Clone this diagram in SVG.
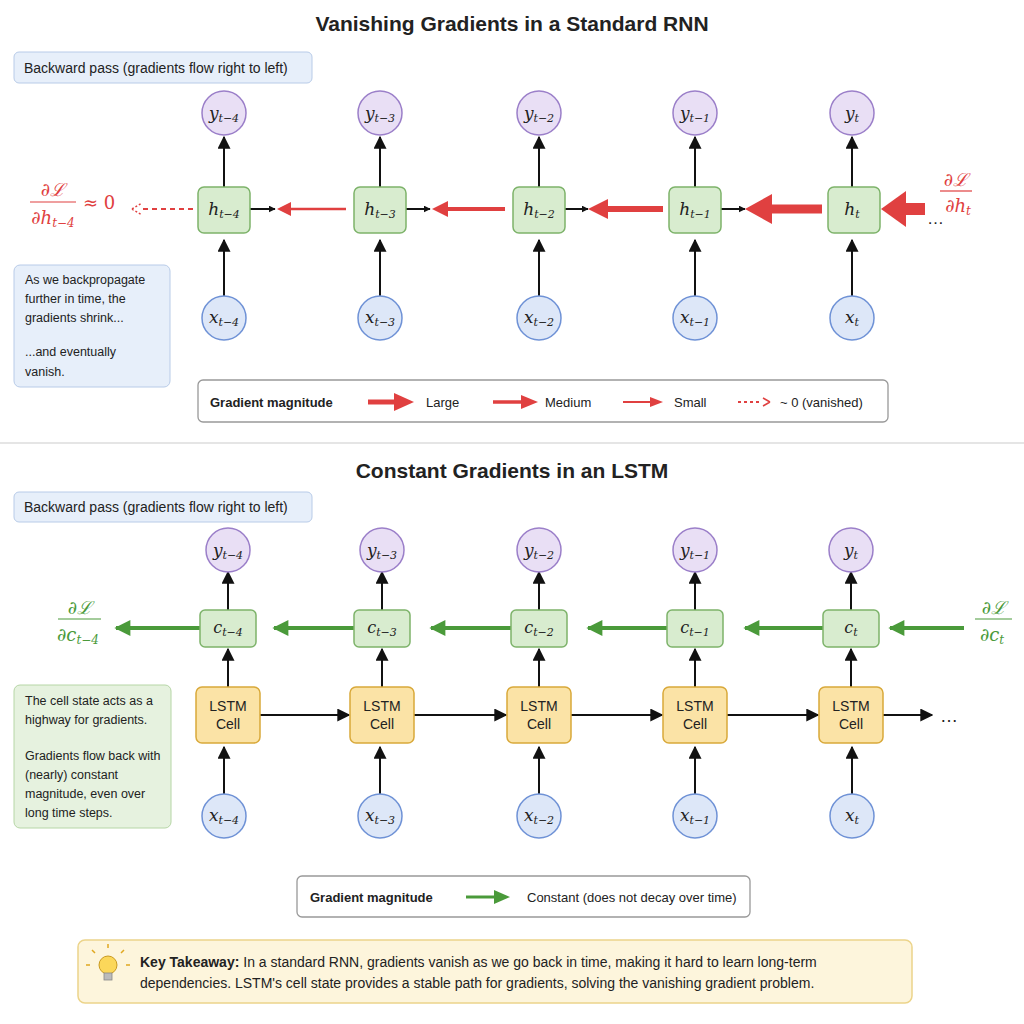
<svg xmlns="http://www.w3.org/2000/svg" width="1024" height="1024" viewBox="0 0 1024 1024">
<defs>
<style>
text{font-family:"Liberation Sans",Arial,sans-serif;fill:#222}
.m{font-family:"DejaVu Serif","Liberation Serif",serif;font-style:italic}
.title{font-size:21px;font-weight:bold;text-anchor:middle}
.circY{fill:#e9dff5;stroke:#9b7fc9;stroke-width:1.5}
.circX{fill:#dde7f8;stroke:#6f92d6;stroke-width:1.5}
.box{fill:#d8eccf;stroke:#7db36a;stroke-width:1.5}
.lstm{fill:#fbe3a6;stroke:#d9a93a;stroke-width:1.5}
.blk{stroke:#111;stroke-width:2;fill:none}
.note{fill:#e7effa;stroke:#b8cbe8;stroke-width:1}
</style>
<marker id="ab" viewBox="0 0 10 10" refX="9" refY="5" markerWidth="7" markerHeight="7" orient="auto" markerUnits="userSpaceOnUse"><path d="M0,0L10,5L0,10z" fill="#111"/></marker>
<marker id="abL" viewBox="0 0 10 10" refX="9" refY="5" markerWidth="13" markerHeight="13" orient="auto" markerUnits="userSpaceOnUse"><path d="M0,0L10,5L0,10z" fill="#111"/></marker>
<marker id="ag" viewBox="0 0 10 10" refX="9" refY="5" markerWidth="18" markerHeight="16" orient="auto" markerUnits="userSpaceOnUse"><path d="M0,0L10,5L0,10z" fill="#4a9a3a"/></marker>
</defs>
<rect width="1024" height="1024" fill="#fff"/>

<text class="title" x="512" y="31">Vanishing Gradients in a Standard RNN</text>
<rect class="note" x="14" y="52" width="298" height="31" rx="5"/>
<text x="24" y="73" font-size="14">Backward pass (gradients flow right to left)</text>

<g id="connectors">
<g class="blk">
<path d="M224,296V240" marker-end="url(#abL)"/><path d="M380,296V240" marker-end="url(#abL)"/><path d="M539,296V240" marker-end="url(#abL)"/><path d="M695,296V240" marker-end="url(#abL)"/><path d="M852,296V240" marker-end="url(#abL)"/>
<path d="M224,187V137" marker-end="url(#abL)"/><path d="M380,187V137" marker-end="url(#abL)"/><path d="M539,187V137" marker-end="url(#abL)"/><path d="M695,187V137" marker-end="url(#abL)"/><path d="M852,187V137" marker-end="url(#abL)"/>
<path d="M250,209H275" marker-end="url(#ab)"/><path d="M406,209H430" marker-end="url(#ab)"/><path d="M565,209H588" marker-end="url(#ab)"/><path d="M721,209H745" marker-end="url(#ab)"/>
</g>
<path d="M346,209H290" stroke="#e04040" stroke-width="2.5"/><path d="M277,209l14,-7v14z" fill="#e04040"/>
<path d="M505,209H447" stroke="#e04040" stroke-width="4"/><path d="M432,209l16,-8v16z" fill="#e04040"/>
<path d="M663,209H605" stroke="#e04040" stroke-width="6"/><path d="M588,209l20,-10v20z" fill="#e04040"/>
<path d="M822,209H770" stroke="#e04040" stroke-width="9"/><path d="M745,209l27,-15v30z" fill="#e04040"/>
<path d="M925,209H905" stroke="#e04040" stroke-width="12"/><path d="M881,209l25,-18v36z" fill="#e04040"/>
<path d="M193,209H142" stroke="#e04040" stroke-width="2" stroke-dasharray="5,4"/><path d="M132,209l10,-6M132,209l10,6" stroke="#e04040" stroke-width="1.5" stroke-dasharray="2,2"/>

<g class="blk">
<path d="M224,794V747" marker-end="url(#abL)"/><path d="M380,794V747" marker-end="url(#abL)"/><path d="M539,794V747" marker-end="url(#abL)"/><path d="M695,794V747" marker-end="url(#abL)"/><path d="M852,794V747" marker-end="url(#abL)"/>
<path d="M228,687V649" marker-end="url(#abL)"/><path d="M382,687V649" marker-end="url(#abL)"/><path d="M539,687V649" marker-end="url(#abL)"/><path d="M695,687V649" marker-end="url(#abL)"/><path d="M851,687V649" marker-end="url(#abL)"/>
<path d="M228,610V572" marker-end="url(#abL)"/><path d="M382,610V572" marker-end="url(#abL)"/><path d="M539,610V572" marker-end="url(#abL)"/><path d="M695,610V572" marker-end="url(#abL)"/><path d="M851,610V572" marker-end="url(#abL)"/>
<path d="M260,715H349" marker-end="url(#abL)"/><path d="M414,715H506" marker-end="url(#abL)"/><path d="M571,715H662" marker-end="url(#abL)"/><path d="M727,715H818" marker-end="url(#abL)"/><path d="M883,715H932" marker-end="url(#abL)"/>
</g>
<path d="M964,628H890" stroke="#4a9a3a" stroke-width="4" marker-end="url(#ag)"/>
<path d="M824,628H745" stroke="#4a9a3a" stroke-width="4" marker-end="url(#ag)"/>
<path d="M668,628H588" stroke="#4a9a3a" stroke-width="4" marker-end="url(#ag)"/>
<path d="M512,628H431" stroke="#4a9a3a" stroke-width="4" marker-end="url(#ag)"/>
<path d="M356,628H274" stroke="#4a9a3a" stroke-width="4" marker-end="url(#ag)"/>
<path d="M200,628H116" stroke="#4a9a3a" stroke-width="4" marker-end="url(#ag)"/>
</g>

<g id="rnn-nodes">
<g id="y1"><circle class="circY" cx="224" cy="113" r="22"/><text class="m" x="224" y="119" font-size="17" text-anchor="middle">y<tspan font-size="11" dy="3">t−4</tspan></text></g>
<g id="y2"><circle class="circY" cx="380" cy="113" r="22"/><text class="m" x="380" y="119" font-size="17" text-anchor="middle">y<tspan font-size="11" dy="3">t−3</tspan></text></g>
<g id="y3"><circle class="circY" cx="539" cy="113" r="22"/><text class="m" x="539" y="119" font-size="17" text-anchor="middle">y<tspan font-size="11" dy="3">t−2</tspan></text></g>
<g id="y4"><circle class="circY" cx="695" cy="113" r="22"/><text class="m" x="695" y="119" font-size="17" text-anchor="middle">y<tspan font-size="11" dy="3">t−1</tspan></text></g>
<g id="y5"><circle class="circY" cx="852" cy="113" r="22"/><text class="m" x="852" y="119" font-size="17" text-anchor="middle">y<tspan font-size="11" dy="3">t</tspan></text></g>
<g id="h1"><rect class="box" x="198" y="187" width="52" height="46" rx="6"/><text class="m" x="224" y="215" font-size="17" text-anchor="middle">h<tspan font-size="11" dy="3">t−4</tspan></text></g>
<g id="h2"><rect class="box" x="354" y="187" width="52" height="46" rx="6"/><text class="m" x="380" y="215" font-size="17" text-anchor="middle">h<tspan font-size="11" dy="3">t−3</tspan></text></g>
<g id="h3"><rect class="box" x="513" y="187" width="52" height="46" rx="6"/><text class="m" x="539" y="215" font-size="17" text-anchor="middle">h<tspan font-size="11" dy="3">t−2</tspan></text></g>
<g id="h4"><rect class="box" x="669" y="187" width="52" height="46" rx="6"/><text class="m" x="695" y="215" font-size="17" text-anchor="middle">h<tspan font-size="11" dy="3">t−1</tspan></text></g>
<g id="h5"><rect class="box" x="828" y="187" width="52" height="46" rx="6"/><text class="m" x="852" y="215" font-size="17" text-anchor="middle">h<tspan font-size="11" dy="3">t</tspan></text></g>
<g id="x1"><circle class="circX" cx="224" cy="318" r="22"/><text class="m" x="224" y="323" font-size="17" text-anchor="middle">x<tspan font-size="11" dy="3">t−4</tspan></text></g>
<g id="x2"><circle class="circX" cx="380" cy="318" r="22"/><text class="m" x="380" y="323" font-size="17" text-anchor="middle">x<tspan font-size="11" dy="3">t−3</tspan></text></g>
<g id="x3"><circle class="circX" cx="539" cy="318" r="22"/><text class="m" x="539" y="323" font-size="17" text-anchor="middle">x<tspan font-size="11" dy="3">t−2</tspan></text></g>
<g id="x4"><circle class="circX" cx="695" cy="318" r="22"/><text class="m" x="695" y="323" font-size="17" text-anchor="middle">x<tspan font-size="11" dy="3">t−1</tspan></text></g>
<g id="x5"><circle class="circX" cx="852" cy="318" r="22"/><text class="m" x="852" y="323" font-size="17" text-anchor="middle">x<tspan font-size="11" dy="3">t</tspan></text></g>
</g>

<g id="rnn-labels">
<text class="m" x="53" y="196" font-size="18" text-anchor="middle" style="fill:#e04040">∂ℒ</text>
<path d="M30,202H76" stroke="#e04040" stroke-width="1.2"/>
<text class="m" x="53" y="224" font-size="18" text-anchor="middle" style="fill:#e04040">∂h<tspan font-size="12" dy="3">t−4</tspan></text>
<text class="m" x="83" y="209" font-size="18" style="fill:#e04040;font-style:normal">≈ 0</text>
<text class="m" x="956" y="186" font-size="18" text-anchor="middle" style="fill:#e04040">∂ℒ</text>
<path d="M940,191H972" stroke="#e04040" stroke-width="1.2"/>
<text class="m" x="958" y="212" font-size="18" text-anchor="middle" style="fill:#e04040">∂h<tspan font-size="12" dy="3">t</tspan></text>
<text x="927" y="224" font-size="17">…</text>
</g>

<g id="rnn-note">
<rect class="note" x="14" y="265" width="156" height="122" rx="6"/>
<text font-size="12.5"><tspan x="25" y="284">As we backpropagate</tspan><tspan x="25" y="303">further in time, the</tspan><tspan x="25" y="322">gradients shrink...</tspan><tspan x="25" y="356">...and eventually</tspan><tspan x="25" y="376">vanish.</tspan></text>
</g>

<g id="rnn-legend">
<rect x="198" y="380" width="690" height="42" rx="5" fill="#fff" stroke="#999" stroke-width="1.3"/>
<text x="210" y="407" font-size="13" font-weight="bold">Gradient magnitude</text>
<path d="M368,402H396" stroke="#e04040" stroke-width="5"/><path d="M414,402l-20,-9v18z" fill="#e04040"/>
<text x="426" y="407" font-size="13">Large</text>
<path d="M493,402H521" stroke="#e04040" stroke-width="3.5"/><path d="M538,402l-17,-7v14z" fill="#e04040"/>
<text x="545" y="407" font-size="13">Medium</text>
<path d="M623,402H651" stroke="#e04040" stroke-width="2"/><path d="M663,402l-13,-5v10z" fill="#e04040"/>
<text x="674" y="407" font-size="13">Small</text>
<path d="M738,402H762" stroke="#e04040" stroke-width="2" stroke-dasharray="3,3"/><path d="M770,402l-7,-4M770,402l-7,4" stroke="#e04040" stroke-width="1.5"/>
<text x="780" y="407" font-size="13">~ 0 (vanished)</text>
</g>

<path d="M0,443H1024" stroke="#ddd" stroke-width="1.5"/>

<text class="title" x="512" y="478">Constant Gradients in an LSTM</text>
<rect class="note" x="14" y="492" width="298" height="30" rx="5"/>
<text x="24" y="512" font-size="14">Backward pass (gradients flow right to left)</text>

<g id="lstm-nodes">
<g id="ly1"><circle class="circY" cx="228" cy="550" r="22"/><text class="m" x="228" y="556" font-size="17" text-anchor="middle">y<tspan font-size="11" dy="3">t−4</tspan></text></g>
<g id="ly2"><circle class="circY" cx="382" cy="550" r="22"/><text class="m" x="382" y="556" font-size="17" text-anchor="middle">y<tspan font-size="11" dy="3">t−3</tspan></text></g>
<g id="ly3"><circle class="circY" cx="539" cy="550" r="22"/><text class="m" x="539" y="556" font-size="17" text-anchor="middle">y<tspan font-size="11" dy="3">t−2</tspan></text></g>
<g id="ly4"><circle class="circY" cx="695" cy="550" r="22"/><text class="m" x="695" y="556" font-size="17" text-anchor="middle">y<tspan font-size="11" dy="3">t−1</tspan></text></g>
<g id="ly5"><circle class="circY" cx="851" cy="550" r="22"/><text class="m" x="851" y="556" font-size="17" text-anchor="middle">y<tspan font-size="11" dy="3">t</tspan></text></g>
<g id="c1"><rect class="box" x="200" y="610" width="56" height="37" rx="5"/><text class="m" x="228" y="633" font-size="16" text-anchor="middle">c<tspan font-size="11" dy="3">t−4</tspan></text></g>
<g id="c2"><rect class="box" x="354" y="610" width="56" height="37" rx="5"/><text class="m" x="382" y="633" font-size="16" text-anchor="middle">c<tspan font-size="11" dy="3">t−3</tspan></text></g>
<g id="c3"><rect class="box" x="511" y="610" width="56" height="37" rx="5"/><text class="m" x="539" y="633" font-size="16" text-anchor="middle">c<tspan font-size="11" dy="3">t−2</tspan></text></g>
<g id="c4"><rect class="box" x="667" y="610" width="56" height="37" rx="5"/><text class="m" x="695" y="633" font-size="16" text-anchor="middle">c<tspan font-size="11" dy="3">t−1</tspan></text></g>
<g id="c5"><rect class="box" x="823" y="610" width="56" height="37" rx="5"/><text class="m" x="851" y="633" font-size="16" text-anchor="middle">c<tspan font-size="11" dy="3">t</tspan></text></g>
<g id="l1"><rect class="lstm" x="196" y="687" width="64" height="56" rx="6"/><text x="228" y="711" font-size="14" text-anchor="middle">LSTM</text><text x="228" y="729" font-size="14" text-anchor="middle">Cell</text></g>
<g id="l2"><rect class="lstm" x="350" y="687" width="64" height="56" rx="6"/><text x="382" y="711" font-size="14" text-anchor="middle">LSTM</text><text x="382" y="729" font-size="14" text-anchor="middle">Cell</text></g>
<g id="l3"><rect class="lstm" x="507" y="687" width="64" height="56" rx="6"/><text x="539" y="711" font-size="14" text-anchor="middle">LSTM</text><text x="539" y="729" font-size="14" text-anchor="middle">Cell</text></g>
<g id="l4"><rect class="lstm" x="663" y="687" width="64" height="56" rx="6"/><text x="695" y="711" font-size="14" text-anchor="middle">LSTM</text><text x="695" y="729" font-size="14" text-anchor="middle">Cell</text></g>
<g id="l5"><rect class="lstm" x="819" y="687" width="64" height="56" rx="6"/><text x="851" y="711" font-size="14" text-anchor="middle">LSTM</text><text x="851" y="729" font-size="14" text-anchor="middle">Cell</text></g>
<g id="lx1"><circle class="circX" cx="224" cy="816" r="22"/><text class="m" x="224" y="821" font-size="17" text-anchor="middle">x<tspan font-size="11" dy="3">t−4</tspan></text></g>
<g id="lx2"><circle class="circX" cx="380" cy="816" r="22"/><text class="m" x="380" y="821" font-size="17" text-anchor="middle">x<tspan font-size="11" dy="3">t−3</tspan></text></g>
<g id="lx3"><circle class="circX" cx="539" cy="816" r="22"/><text class="m" x="539" y="821" font-size="17" text-anchor="middle">x<tspan font-size="11" dy="3">t−2</tspan></text></g>
<g id="lx4"><circle class="circX" cx="695" cy="816" r="22"/><text class="m" x="695" y="821" font-size="17" text-anchor="middle">x<tspan font-size="11" dy="3">t−1</tspan></text></g>
<g id="lx5"><circle class="circX" cx="852" cy="816" r="22"/><text class="m" x="852" y="821" font-size="17" text-anchor="middle">x<tspan font-size="11" dy="3">t</tspan></text></g>
</g>

<g id="lstm-labels">
<text class="m" x="80" y="614" font-size="18" text-anchor="middle" style="fill:#4a9a3a">∂ℒ</text>
<path d="M58,619H101" stroke="#4a9a3a" stroke-width="1.2"/>
<text class="m" x="78" y="641" font-size="18" text-anchor="middle" style="fill:#4a9a3a">∂c<tspan font-size="12" dy="3">t−4</tspan></text>
<text class="m" x="994" y="614" font-size="18" text-anchor="middle" style="fill:#4a9a3a">∂ℒ</text>
<path d="M975,619H1012" stroke="#4a9a3a" stroke-width="1.2"/>
<text class="m" x="992" y="641" font-size="18" text-anchor="middle" style="fill:#4a9a3a">∂c<tspan font-size="12" dy="3">t</tspan></text>
<text x="940" y="722" font-size="18">…</text>
</g>

<g id="lstm-note">
<rect x="14" y="685" width="157" height="143" rx="6" fill="#e6f2df" stroke="#b6d6a6"/>
<text font-size="12.5"><tspan x="25" y="705">The cell state acts as a</tspan><tspan x="25" y="724">highway for gradients.</tspan><tspan x="25" y="760">Gradients flow back with</tspan><tspan x="25" y="779">(nearly) constant</tspan><tspan x="25" y="798">magnitude, even over</tspan><tspan x="25" y="817">long time steps.</tspan></text>
</g>

<g id="lstm-legend">
<rect x="297" y="876" width="453" height="41" rx="5" fill="#fff" stroke="#999" stroke-width="1.3"/>
<text x="310" y="902" font-size="13" font-weight="bold">Gradient magnitude</text>
<path d="M466,897H494" stroke="#4a9a3a" stroke-width="3"/><path d="M510,897l-16,-7v14z" fill="#4a9a3a"/>
<text x="527" y="902" font-size="13">Constant (does not decay over time)</text>
</g>

<g id="takeaway">
<rect x="78" y="940" width="834" height="63" rx="7" fill="#fdf5dc" stroke="#ecd48a" stroke-width="1.5"/>
<g id="bulb">
<circle cx="108" cy="965" r="9" fill="#fbd75a" stroke="#c99a20"/>
<rect x="104" y="973" width="8" height="7" fill="#bbb" stroke="#888" stroke-width="0.8"/>
<path d="M108,948v-4M95,953l-3,-3M121,953l3,-3M90,965h-4M126,965h4" stroke="#e0a820" stroke-width="1.5"/>
</g>
<text x="140" y="967" font-size="14"><tspan font-weight="bold">Key Takeaway:</tspan> In a standard RNN, gradients vanish as we go back in time, making it hard to learn long-term</text>
<text x="140" y="988" font-size="14">dependencies. LSTM's cell state provides a stable path for gradients, solving the vanishing gradient problem.</text>
</g>
</svg>
